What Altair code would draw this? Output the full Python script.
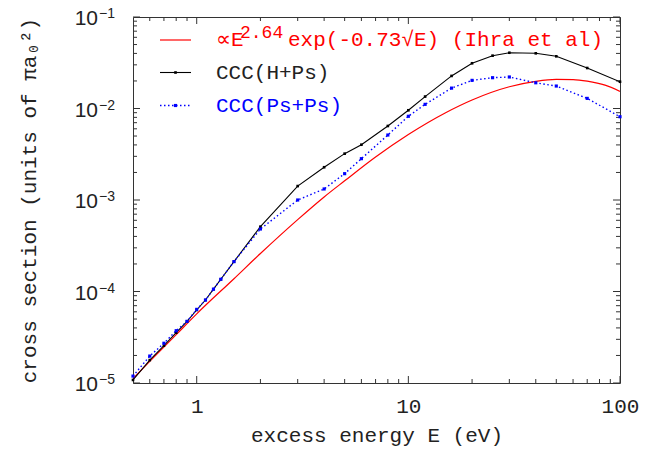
import altair as alt
import pandas as pd

# ---------------- data ----------------
energy = [0.5, 0.6, 0.7, 0.8, 0.9, 1.0, 1.1, 1.2, 1.3, 1.5, 2, 3, 4, 5, 6, 8,
          10, 12, 16, 20, 25, 30, 40, 50, 70, 100]
ccc_h_ps = [1.08e-5, 1.78e-5, 2.56e-5, 3.55e-5, 4.72e-5, 6.28e-5, 8.07e-5,
            1.06e-4, 1.36e-4, 2.12e-4, 5.11e-4, 1.42e-3, 2.28e-3, 3.21e-3,
            4.02e-3, 6.44e-3, 9.56e-3, 1.35e-2, 2.27e-2, 3.12e-2, 3.78e-2,
            4.07e-2, 4.01e-2, 3.72e-2, 2.77e-2, 1.96e-2]
ccc_ps_ps = [1.19e-5, 1.97e-5, 2.72e-5, 3.73e-5, 4.72e-5, 6.38e-5, 8.07e-5,
             1.06e-4, 1.36e-4, 2.12e-4, 4.82e-4, 1.00e-3, 1.32e-3, 1.94e-3,
             2.83e-3, 5.13e-3, 8.22e-3, 1.11e-2, 1.67e-2, 2.03e-2, 2.17e-2,
             2.21e-2, 1.91e-2, 1.76e-2, 1.29e-2, 8.13e-3]
ihra_energy = [0.5, 0.6, 0.8, 1.0, 1.5, 2, 3, 4, 5, 7, 10, 15, 20, 30, 40,
               50, 60, 70, 85, 100]
ihra_sigma = [1.12e-5, 1.72e-5, 3.38e-5, 5.7e-5, 1.38e-4, 2.6e-4, 6.1e-4,
              1.08e-3, 1.62e-3, 2.95e-3, 5.2e-3, 9.0e-3, 1.24e-2, 1.73e-2,
              1.98e-2, 2.08e-2, 2.07e-2, 1.99e-2, 1.8e-2, 1.54e-2]

x_tick_labels = [1, 10, 100]
x_minor_ticks = [0.6, 0.7, 0.8, 0.9, 2, 3, 4, 5, 6, 7, 8, 9,
                 20, 30, 40, 50, 60, 70, 80, 90]
y_major_ticks = [1e-5, 1e-4, 1e-3, 1e-2, 1e-1]
y_exponents = ["\u22125", "\u22124", "\u22123", "\u22122", "\u22121"]
y_minor_ticks = [m * 10.0 ** e for e in range(-5, -1) for m in range(2, 10)]

legend_labels = ["\u221dE", "2.64", "exp(-0.73\u221aE) (Ihra et al)",
                 "CCC(H+Ps)", "CCC(Ps+Ps)"]

x_title = "excess energy E (eV)"
y_title = "cross section (units of \u03c0a\u2080\u00b2)"

# ---------------- frames ----------------
ccc_df = pd.DataFrame({"E": energy, "hps": ccc_h_ps, "psps": ccc_ps_ps})
ihra_df = pd.DataFrame({"E": ihra_energy, "s": ihra_sigma})
ytick_df = pd.DataFrame({"v": y_major_ticks, "exp": y_exponents})
xmaj_df = pd.DataFrame({"v": x_tick_labels})
xmin_df = pd.DataFrame({"v": x_minor_ticks})
ymaj_df = pd.DataFrame({"v": y_major_ticks})
ymin_df = pd.DataFrame({"v": y_minor_ticks})
one = pd.DataFrame({"a": [0]})

W, H = 487, 366
MONO = "Liberation Mono"
SANS = "Liberation Sans"
TXT = "#222222"
RED = "#ff0000"
BLUE = "#0000ff"
TICK = "#333333"
MAJ, MIN = 7, 4

xscale = alt.Scale(type="log", domain=[0.5, 100], nice=False)
yscale = alt.Scale(type="log", domain=[1e-5, 1e-1], nice=False)

# red curve + main axes (labels & titles)
red = alt.Chart(ihra_df).mark_line(color=RED, strokeWidth=1.2, interpolate="monotone", clip=True).encode(
    x=alt.X("E:Q", scale=xscale,
            axis=alt.Axis(orient="bottom", values=x_tick_labels, tickSize=0, domain=False,
                          grid=False, labelFont=MONO, labelFontSize=21, labelColor=TXT,
                          labelPadding=12, labelFlush=False, labelOverlap=False, format="d",
                          title=x_title, titleFont=MONO,
                          titleFontSize=21, titleFontWeight="normal", titleColor=TXT,
                          titlePadding=8)),
    y=alt.Y("s:Q", scale=yscale,
            axis=alt.Axis(orient="left", labels=False, ticks=False, domain=False, grid=False,
                          title=y_title, titleFont=MONO, titleFontSize=21,
                          titleFontWeight="normal", titleColor=TXT, titlePadding=94)),
)

black = alt.Chart(ccc_df).mark_line(color="black", strokeWidth=1.1, clip=True).encode(
    x=alt.X("E:Q", scale=xscale, axis=None),
    y=alt.Y("hps:Q", scale=yscale, axis=None),
)
black_pts = alt.Chart(ccc_df).mark_point(filled=True, shape="square", size=7, color="black", opacity=1).encode(
    x=alt.X("E:Q", scale=xscale, axis=None),
    y=alt.Y("hps:Q", scale=yscale, axis=None),
)
blue = alt.Chart(ccc_df).mark_line(color=BLUE, strokeWidth=1.4, strokeDash=[1.5, 2.5], clip=True).encode(
    x=alt.X("E:Q", scale=xscale, axis=None),
    y=alt.Y("psps:Q", scale=yscale, axis=None),
)
blue_pts = alt.Chart(ccc_df).mark_point(filled=True, shape="square", size=10, color=BLUE, opacity=1).encode(
    x=alt.X("E:Q", scale=xscale, axis=None),
    y=alt.Y("psps:Q", scale=yscale, axis=None),
)

# inward ticks on all four sides
def xticks(df, length):
    bottom = alt.Chart(df).mark_rule(color=TICK, strokeWidth=1).encode(
        x=alt.X("v:Q", scale=xscale, axis=None), y=alt.value(H), y2=alt.value(H - length))
    top = alt.Chart(df).mark_rule(color=TICK, strokeWidth=1).encode(
        x=alt.X("v:Q", scale=xscale, axis=None), y=alt.value(0), y2=alt.value(length))
    return [bottom, top]

def yticks(df, length):
    left = alt.Chart(df).mark_rule(color=TICK, strokeWidth=1).encode(
        y=alt.Y("v:Q", scale=yscale, axis=None), x=alt.value(0), x2=alt.value(length))
    right = alt.Chart(df).mark_rule(color=TICK, strokeWidth=1).encode(
        y=alt.Y("v:Q", scale=yscale, axis=None), x=alt.value(W), x2=alt.value(W - length))
    return [left, right]

ticks = xticks(xmaj_df, MAJ) + xticks(xmin_df, MIN) + yticks(ymaj_df, MAJ) + yticks(ymin_df, MIN)

# y tick labels 10^n
ylab = alt.Chart(ytick_df).mark_text(font=SANS, fontSize=21, color=TXT, align="right",
                                     baseline="middle", dy=2).encode(
    y=alt.Y("v:Q", scale=yscale, axis=None), x=alt.value(-35), text=alt.value("10"))
ysup = alt.Chart(ytick_df).mark_text(font=SANS, fontSize=14, color=TXT, align="left",
                                     baseline="middle", dy=-3).encode(
    y=alt.Y("v:Q", scale=yscale, axis=None), x=alt.value(-34), text="exp:N")

# legend
ROWS = [23, 55.5, 88.5]
leg = []
leg.append(alt.Chart(one).mark_rule(color=RED, strokeWidth=1.2).encode(
    x=alt.value(27), x2=alt.value(58), y=alt.value(ROWS[0])))
leg.append(alt.Chart(one).mark_rule(color="black", strokeWidth=1.1).encode(
    x=alt.value(27), x2=alt.value(58), y=alt.value(ROWS[1])))
leg.append(alt.Chart(one).mark_point(filled=True, shape="square", size=7, color="black", opacity=1).encode(
    x=alt.value(42.5), y=alt.value(ROWS[1])))
leg.append(alt.Chart(one).mark_rule(color=BLUE, strokeWidth=1.4, strokeDash=[1.5, 2.5]).encode(
    x=alt.value(27), x2=alt.value(58), y=alt.value(ROWS[2])))
leg.append(alt.Chart(one).mark_point(filled=True, shape="square", size=10, color=BLUE, opacity=1).encode(
    x=alt.value(42.5), y=alt.value(ROWS[2])))
leg.append(alt.Chart(one).mark_text(font=MONO, fontSize=21, color=RED, align="left", baseline="middle").encode(
    x=alt.value(83), y=alt.value(ROWS[0]), text=alt.value(legend_labels[0])))
leg.append(alt.Chart(one).mark_text(font=MONO, fontSize=18, color=RED, align="left", baseline="middle").encode(
    x=alt.value(107), y=alt.value(ROWS[0] - 7), text=alt.value(legend_labels[1])))
leg.append(alt.Chart(one).mark_text(font=MONO, fontSize=21, color=RED, align="left", baseline="middle").encode(
    x=alt.value(155), y=alt.value(ROWS[0]), text=alt.value(legend_labels[2])))
leg.append(alt.Chart(one).mark_text(font=MONO, fontSize=21, color=TXT, align="left", baseline="middle").encode(
    x=alt.value(83), y=alt.value(ROWS[1]), text=alt.value(legend_labels[3])))
leg.append(alt.Chart(one).mark_text(font=MONO, fontSize=21, color=BLUE, align="left", baseline="middle").encode(
    x=alt.value(83), y=alt.value(ROWS[2]), text=alt.value(legend_labels[4])))

chart = alt.layer(red, *ticks, black, blue, black_pts, blue_pts, ylab, ysup, *leg).resolve_axis(
    x="independent", y="independent"
).properties(
    width=W, height=H, autosize="none",
    padding={"left": 125, "top": 9, "right": 30, "bottom": 66},
).configure_view(stroke=TICK, strokeWidth=1)

chart.save("out.html", embed_options={"renderer": "svg", "actions": False})
